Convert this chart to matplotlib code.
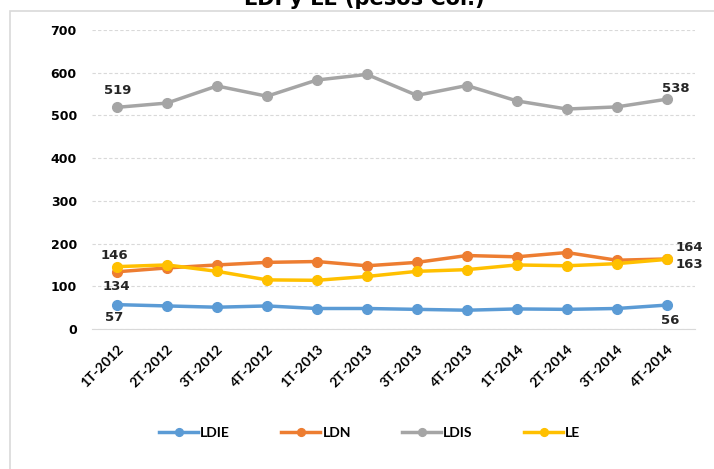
import matplotlib
matplotlib.use("Agg")
import matplotlib.pyplot as plt
from matplotlib.patches import Rectangle

# data
quarters = ["1T-2012", "2T-2012", "3T-2012", "4T-2012",
            "1T-2013", "2T-2013", "3T-2013", "4T-2013",
            "1T-2014", "2T-2014", "3T-2014", "4T-2014"]
ldie = [57, 54, 51, 54, 48, 48, 46, 44, 47, 46, 48, 56]
ldn = [134, 143, 150, 156, 158, 148, 156, 172, 169, 179, 161, 164]
ldis = [519, 529, 569, 545, 583, 596, 547, 570, 534, 515, 520, 538]
le = [146, 150, 135, 115, 114, 123, 135, 139, 150, 148, 153, 163]

series = [
    ("LDIE", ldie, "#5B9BD5"),
    ("LDN", ldn, "#ED7D31"),
    ("LDIS", ldis, "#A5A5A5"),
    ("LE", le, "#FFC000"),
]

plt.rcParams["font.family"] = ["DejaVu Sans"]

fig = plt.figure(figsize=(7.14, 4.69), dpi=100)
ax = fig.add_axes([0.129, 0.2985, 0.844, 0.6375])

# chart frame border (partly clipped like the screenshot)
fig.patches.append(Rectangle((10 / 714, -0.1), 1.2, 1 - 11 / 469 + 0.1,
                             transform=fig.transFigure, fill=False,
                             edgecolor="#D9D9D9", linewidth=1.2))

x = list(range(len(quarters)))
for name, vals, color in series:
    ax.plot(x, vals, color=color, linewidth=2.5, marker="o", markersize=7,
            label=name, zorder=3)

ax.set_ylim(0, 700)
ax.set_xlim(-0.5, len(quarters) - 0.44)
ax.set_yticks(range(0, 701, 100))
ax.yaxis.grid(True, color="#D9D9D9", linestyle=(0, (3, 2)), linewidth=0.8)
ax.set_axisbelow(True)
for side in ["top", "right", "left"]:
    ax.spines[side].set_visible(False)
ax.spines["bottom"].set_color("#D9D9D9")
ax.tick_params(axis="both", length=0)
ax.tick_params(axis="y", labelsize=9, pad=11)
ax.set_xticks(x)
ax.set_xticklabels(quarters, rotation=45, ha="right", rotation_mode="anchor",
                   fontsize=10, fontweight="bold", family="Lato")
for lab in ax.get_yticklabels():
    lab.set_fontweight("bold")
ax.tick_params(axis="x", pad=10)

# data labels: (value, x index, offset in points)
lab_kw = dict(fontsize=9.5, fontweight="bold", color="#262626",
              textcoords="offset points", ha="center", va="center")
labels = [
    (ldis[0], 0, (0.7, 12.2)),
    (le[0], 0, (-2, 8)),
    (ldn[0], 0, (-0.7, -10.8)),
    (ldie[0], 0, (-1.8, -9.4)),
    (ldis[-1], 11, (6.5, 8)),
    (ldn[-1], 11, (16.2, 8)),
    (le[-1], 11, (16.5, -3.6)),
    (ldie[-1], 11, (2.2, -10.8)),
]
for val, i, off in labels:
    ax.annotate(str(val), (i, val), xytext=off, **lab_kw)

fig.text(0.51, 1 - 5 / 469, "LDI y LE (pesos Col.)", ha="center",
         va="baseline", fontsize=15, fontweight="bold")

leg = fig.legend(loc="center", bbox_to_anchor=(0.518, 1 - 433 / 469), ncol=4,
                 frameon=False, handlelength=2.8, columnspacing=3.7,
                 handletextpad=0.15, markerscale=0.8,
                 prop={"weight": "bold", "size": 10, "family": "Lato"})

fig.savefig("out.png", dpi=100)
